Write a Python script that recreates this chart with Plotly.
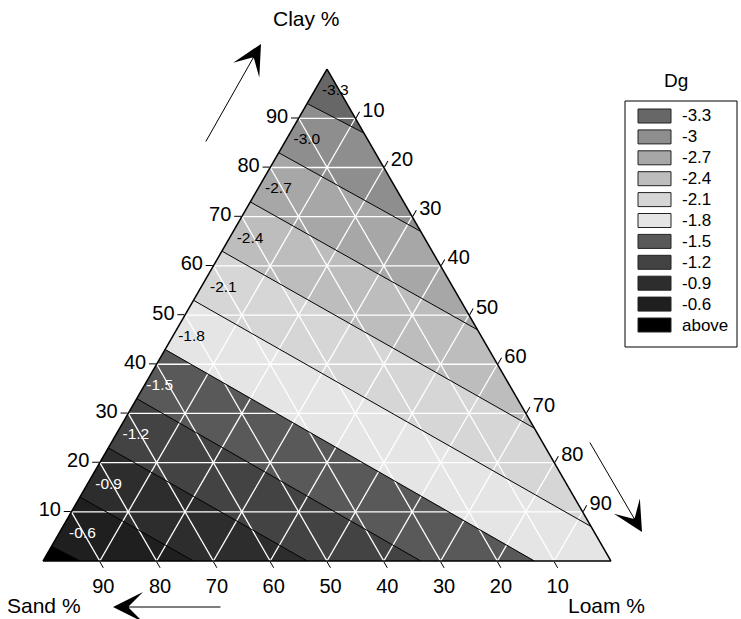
import plotly.graph_objects as go

# ---------------- data ----------------
legend_levels = ["-3.3", "-3", "-2.7", "-2.4", "-2.1", "-1.8", "-1.5", "-1.2", "-0.9", "-0.6", "above"]
band_colors = ["#676767", "#8e8e8e", "#a7a7a7", "#bdbdbd", "#d6d6d6", "#e5e5e5",
               "#595959", "#434343", "#2d2d2d", "#1f1f1f", "#000000"]

# contour-line crossings of the triangle edges
line_left_clay = [93, 83, 73, 63, 53, 43, 33, 23, 13, 3]          # on Clay–Sand edge (Loam = 0)
line_end_edge = ["right"] * 5 + ["bottom"] * 5
line_end_value = [87, 67, 47, 27, 7, 86.5, 66.5, 46.5, 26.5, 6.5]  # clay % (right edge) / loam % (bottom edge)

# in-band labels
band_labels = ["-3.3", "-3.0", "-2.7", "-2.4", "-2.1", "-1.8", "-1.5", "-1.2", "-0.9", "-0.6"]
band_label_clay = [95.5, 85.5, 75.5, 65.5, 55.5, 45.5, 35.5, 25.5, 15.5, 5.5]
band_label_loam = [3.7, 3.7, 3.7, 3.7, 4.0, 3.4, 2.8, 3.6, 3.8, 4.2]
band_label_colors = ["black"] * 6 + ["white"] * 4

tick_values = [10, 20, 30, 40, 50, 60, 70, 80, 90]

FONT = "Liberation Sans, Arial, sans-serif"
W, H = 741, 619


# ---------------- helpers: walk along triangle perimeter ----------------
def perim(edge, v):
    if edge == "left":
        return v            # clay
    if edge == "right":
        return 200 - v      # clay on right edge
    return 300 - v          # loam on bottom edge


def abc(s):
    if s <= 100:
        return (s, 100 - s, 0)
    if s <= 200:
        loam = s - 100
        return (100 - loam, 0, loam)
    sand = s - 200
    return (0, sand, 100 - sand)


starts = [100] + [perim("left", v) for v in line_left_clay] + [0]
ends = [100] + [perim(e, v) for e, v in zip(line_end_edge, line_end_value)] + [300]
corners = [100, 200, 300]

fig = go.Figure()

for k in range(len(band_colors)):
    ss = [starts[k], ends[k]]
    ss += [c for c in corners if ends[k] < c < ends[k + 1]]
    ss += [ends[k + 1], starts[k + 1], starts[k]]
    pts = [abc(s) for s in ss]
    fig.add_trace(go.Scatterternary(
        a=[p[0] for p in pts], b=[p[1] for p in pts], c=[p[2] for p in pts],
        mode="lines", fill="toself", fillcolor=band_colors[k],
        line=dict(color=band_colors[k], width=0.5),
        hoverinfo="skip", showlegend=False))

# white grid lines
ga, gb, gc = [], [], []
for v in tick_values:
    for p, q in [((v, 100 - v, 0), (v, 0, 100 - v)),
                 ((100 - v, v, 0), (0, v, 100 - v)),
                 ((100 - v, 0, v), (0, 100 - v, v))]:
        ga += [p[0], q[0], None]
        gb += [p[1], q[1], None]
        gc += [p[2], q[2], None]
fig.add_trace(go.Scatterternary(a=ga, b=gb, c=gc, mode="lines",
                                line=dict(color="white", width=1.3),
                                hoverinfo="skip", showlegend=False))

# contour lines
la, lb, lc = [], [], []
for k in range(1, len(starts) - 1):
    p, q = abc(starts[k]), abc(ends[k])
    la += [p[0], q[0], None]
    lb += [p[1], q[1], None]
    lc += [p[2], q[2], None]
fig.add_trace(go.Scatterternary(a=la, b=lb, c=lc, mode="lines",
                                line=dict(color="black", width=1),
                                hoverinfo="skip", showlegend=False))

# band labels
fig.add_trace(go.Scatterternary(
    a=band_label_clay, c=band_label_loam,
    b=[100 - a - c for a, c in zip(band_label_clay, band_label_loam)],
    mode="text", text=band_labels, cliponaxis=False,
    textfont=dict(family=FONT, size=15.5, color=band_label_colors),
    hoverinfo="skip", showlegend=False))


def X(px):
    return px / W


def Y(py):
    return 1 - py / H


axis_style = dict(tickmode="array", tickvals=tick_values, ticks="outside", ticklen=7,
                  tickwidth=1, tickcolor="black", showline=True, linecolor="black",
                  linewidth=1.5, showgrid=False, layer="above traces",
                  tickfont=dict(family=FONT, size=20, color="black"), title=dict(text=""))

tri_w = 568
tri_h = tri_w * 3 ** 0.5 / 2
cx, bottom = 327, 561
cy = bottom - tri_h / 2
fig.update_layout(
    width=W, height=H, margin=dict(l=0, r=0, t=0, b=0),
    paper_bgcolor="white", plot_bgcolor="white", hovermode=False,
    font=dict(family=FONT, color="black"),
    ternary=dict(sum=100, bgcolor="white",
                 domain=dict(x=[X(cx - tri_w / 2), X(cx + tri_w / 2)],
                             y=[Y(cy) - 0.4, Y(cy) + 0.4]),
                 aaxis=axis_style, baxis=axis_style, caxis=axis_style),
)

# axis titles
for txt, px, py in [("Clay %", 306, 18), ("Sand %", 44, 605), ("Loam %", 606, 605)]:
    fig.add_annotation(text=txt, x=X(px), y=Y(py), xref="paper", yref="paper",
                       showarrow=False, font=dict(family=FONT, size=21, color="black"),
                       xanchor="center", yanchor="middle")

# direction arrows (tip, tail)
for (tx, ty), (sx, sy) in [((261, 44), (205, 143)), ((642, 532), (589, 441)), ((113, 607), (222, 607))]:
    fig.add_annotation(text="", x=X(tx), y=Y(ty), xref="paper", yref="paper",
                       ax=sx - tx, ay=sy - ty, showarrow=True, arrowhead=3,
                       arrowsize=5, arrowwidth=1, arrowcolor="black", standoff=0)

# legend box
fig.add_annotation(text="Dg", x=X(676), y=Y(80), xref="paper", yref="paper", showarrow=False,
                   font=dict(family=FONT, size=19, color="black"), xanchor="center", yanchor="middle")
fig.add_shape(type="rect", xref="paper", yref="paper", x0=X(625), x1=X(737), y0=Y(347), y1=Y(101),
              line=dict(color="black", width=1), fillcolor="white", layer="above")
for i, (lvl, col) in enumerate(zip(legend_levels, band_colors)):
    yc = 116 + 20.9 * i
    fig.add_shape(type="rect", xref="paper", yref="paper", x0=X(638), x1=X(671),
                  y0=Y(yc + 7), y1=Y(yc - 7), line=dict(color="#222222", width=1),
                  fillcolor=col, layer="above")
    fig.add_annotation(text=lvl, x=X(680), y=Y(yc), xref="paper", yref="paper", showarrow=False,
                       font=dict(family=FONT, size=17, color="black"), xanchor="left", yanchor="middle")

fig.write_html("out.html", config={"displayModeBar": False},
               post_script="document.body.style.margin='0';")
